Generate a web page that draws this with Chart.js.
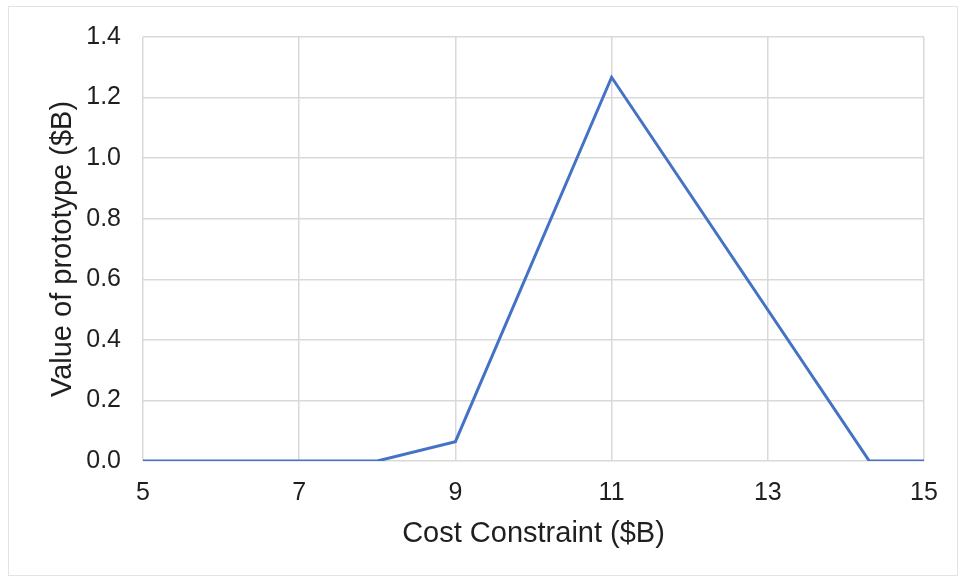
<!DOCTYPE html>
<html>
<head>
<meta charset="utf-8">
<script src="https://cdn.jsdelivr.net/npm/chart.js@4.4.1/dist/chart.umd.min.js"></script>
<style>
  body { margin: 0; background: #fff; }
  #frame { position: absolute; left: 8px; top: 6px; width: 948px; height: 568px; border: 1px solid #e3e3e3; }
  #myChart { position: absolute; left: 0; top: 0; }
</style>
</head>
<body>
<div id="frame"></div>
<canvas id="myChart" width="961" height="580"></canvas>
<script>
// cost constraint ($B) vs value of prototype ($B)
var costs = [5, 8, 9, 11, 14.3, 15];
var values = [0, 0, 0.064, 1.267, 0, 0];
var yTicks = [0, 0.2, 0.4, 0.6, 0.8, 1.0, 1.2, 1.4];
var xTicks = [5, 7, 9, 11, 13, 15];

var pts = costs.map(function (c, i) { return { x: c, y: values[i] }; });

const ctx = document.getElementById('myChart');
new Chart(ctx, {
  type: 'line',
  data: {
    datasets: [{
      label: 'value',
      data: pts,
      borderColor: '#4472c4',
      borderWidth: 3,
      pointRadius: 0,
      tension: 0,
      fill: false
    }]
  },
  options: {
    responsive: false,
    animation: false,
    layout: { padding: { left: 0, top: 36, right: 37, bottom: 0 } },
    plugins: { legend: { display: false }, tooltip: { enabled: false } },
    scales: {
      x: {
        type: 'linear',
        min: xTicks[0],
        max: xTicks[xTicks.length - 1],
        afterBuildTicks: function (s) { s.ticks = xTicks.map(function (v) { return { value: v }; }); },
        afterFit: function (s) { s.height = 119; },
        grid: { color: '#d9d9d9', lineWidth: 1.5, drawTicks: false },
        border: { display: false },
        ticks: { padding: 17, color: '#1f1f1f', font: { family: 'Liberation Sans', size: 25 }, maxRotation: 0 },
        title: {
          display: true,
          text: 'Cost Constraint ($B)',
          color: '#1f1f1f',
          font: { family: 'Liberation Sans', size: 29 },
          padding: { top: 0, bottom: 29 }
        }
      },
      y: {
        min: 0,
        max: 1.4,
        afterBuildTicks: function (s) { s.ticks = yTicks.map(function (v) { return { value: v }; }); },
        afterFit: function (s) { s.width = 143; },
        grid: { color: '#d9d9d9', lineWidth: 1.5, drawTicks: false },
        border: { display: false },
        ticks: {
          padding: 22,
          color: '#1f1f1f',
          font: { family: 'Liberation Sans', size: 25 },
          callback: function (v) { return Number(v).toFixed(1); }
        },
        title: {
          display: true,
          text: 'Value of prototype ($B)',
          color: '#1f1f1f',
          font: { family: 'Liberation Sans', size: 29 },
          padding: { top: 46, bottom: 0 }
        }
      }
    }
  }
});
</script>
</body>
</html>
